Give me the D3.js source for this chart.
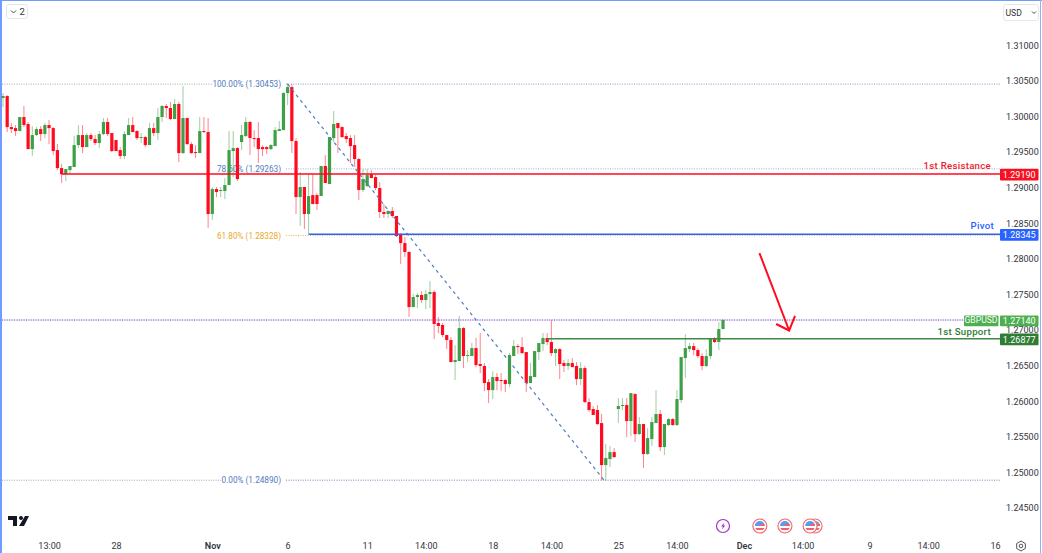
<!DOCTYPE html>
<html>
<head>
<meta charset="utf-8">
<style>
html, body { margin: 0; padding: 0; background: #fff; overflow: hidden; }
svg text { font-family: Roboto, "Liberation Sans", sans-serif; }
</style>
<script src="https://cdn.jsdelivr.net/npm/d3@7"></script>
</head>
<body>
<script>
// GBPUSD 4h candles
var opens = [
1.30258,1.30286,1.29850,1.29836,1.29794,1.29991,1.29893,1.29541,1.29738,1.29822,
1.29752,1.29878,1.29836,1.29527,1.29274,1.29190,1.29246,1.29289,1.29597,1.29738,
1.29569,1.29738,1.29682,1.29626,1.29752,1.29921,1.29766,1.29668,1.29527,1.29443,
1.29738,1.29878,1.29794,1.29696,1.29710,1.29597,1.29836,1.29766,1.29991,1.30146,
1.30118,1.29963,1.30174,1.29485,1.29977,1.29611,1.29499,1.29485,1.29794,1.29780,
1.28629,1.28980,1.28952,1.28952,1.29036,1.29513,1.29555,1.29640,1.29724,1.29921,
1.29696,1.29696,1.29569,1.29569,1.29541,1.29583,1.29794,1.29808,1.30328,1.30412,
1.29654,1.28867,1.29008,1.28629,1.28895,1.28895,1.28881,1.29303,1.29050,1.29696,
1.29907,1.29850,1.29724,1.29696,1.29597,1.29401,1.28966,1.29022,1.29190,1.29148,
1.28994,1.28657,1.28629,1.28671,1.28601,1.28334,1.28221,1.28095,1.27322,1.27463,
1.27491,1.27421,1.27505,1.27533,1.27098,1.27070,1.26929,1.26859,1.26550,1.26564,
1.27027,1.26634,1.26634,1.26746,1.26522,1.26494,1.26269,1.26156,1.26339,1.26297,
1.26297,1.26241,1.26634,1.26774,1.26760,1.26690,1.26255,1.26339,1.26690,1.26803,
1.26887,1.26831,1.26676,1.26732,1.26536,1.26494,1.26536,1.26494,1.26311,1.26465,
1.25988,1.25890,1.25876,1.25693,1.25103,1.25187,1.25285,1.25890,1.25932,1.25946,
1.25721,1.26100,1.25538,1.25679,1.25258,1.25468,1.25693,1.25820,1.25356,1.25665,
1.25749,1.25665,1.26016,1.26606,1.26732,1.26774,1.26718,1.26634,1.26494,1.26634,
1.26873,1.26831,1.27013];
var highs = [
1.30328,1.30300,1.29907,1.29878,1.29991,1.30146,1.29921,1.29864,1.29850,1.29864,
1.29907,1.29949,1.29850,1.29611,1.29331,1.29260,1.29303,1.29724,1.29878,1.29878,
1.29766,1.29766,1.29738,1.29794,1.29977,1.29977,1.29766,1.29668,1.29569,1.29794,
1.29977,1.29991,1.29808,1.29766,1.29724,1.29907,1.29907,1.30118,1.30160,1.30174,
1.30202,1.30244,1.30202,1.30426,1.29977,1.29640,1.29597,1.29991,1.29991,1.29977,
1.29008,1.29008,1.29008,1.29134,1.29794,1.29794,1.29569,1.29878,1.29991,1.29935,
1.29808,1.29921,1.29597,1.29583,1.29611,1.29850,1.29935,1.30342,1.30468,1.30454,
1.29696,1.29218,1.29008,1.29190,1.29190,1.28923,1.29303,1.29457,1.29710,1.30075,
1.29907,1.29864,1.29766,1.29738,1.29738,1.29415,1.29260,1.29260,1.29246,1.29176,
1.29078,1.28769,1.28685,1.28727,1.28601,1.28362,1.28305,1.28109,1.27505,1.27519,
1.27547,1.27561,1.27687,1.27561,1.27182,1.27098,1.26929,1.26901,1.26788,1.27196,
1.27041,1.26718,1.26817,1.26887,1.26957,1.26536,1.26311,1.26423,1.26395,1.26395,
1.26311,1.26676,1.26859,1.26803,1.26901,1.26690,1.26536,1.26704,1.26817,1.26957,
1.26957,1.27140,1.26746,1.26746,1.26578,1.26592,1.26606,1.26550,1.26550,1.26494,
1.26044,1.25932,1.25946,1.25820,1.25398,1.25370,1.25342,1.26044,1.26044,1.26044,
1.26114,1.26114,1.25777,1.25679,1.25623,1.25777,1.26156,1.25876,1.25679,1.25763,
1.25763,1.26156,1.26620,1.26943,1.26817,1.26817,1.26746,1.26676,1.26732,1.26873,
1.26901,1.27112,1.27154];
var lows = [
1.30132,1.29780,1.29766,1.29724,1.29794,1.29850,1.29541,1.29443,1.29724,1.29654,
1.29696,1.29611,1.29457,1.29246,1.29064,1.29092,1.29190,1.29289,1.29555,1.29485,
1.29569,1.29654,1.29597,1.29555,1.29738,1.29724,1.29499,1.29513,1.29401,1.29401,
1.29738,1.29780,1.29668,1.29626,1.29569,1.29597,1.29724,1.29668,1.29921,1.29977,
1.29949,1.29963,1.29359,1.29471,1.29597,1.29471,1.29415,1.29485,1.29766,1.28433,
1.28545,1.28867,1.28867,1.28839,1.29036,1.29148,1.29092,1.29527,1.29710,1.29457,
1.29569,1.29345,1.29443,1.29471,1.29527,1.29583,1.29794,1.29808,1.30160,1.29485,
1.28629,1.28461,1.28419,1.28348,1.28769,1.28685,1.28881,1.29064,1.29050,1.29640,
1.29485,1.29696,1.29626,1.29345,1.29289,1.28825,1.28938,1.29008,1.29134,1.28966,
1.28573,1.28573,1.28573,1.28573,1.28305,1.27926,1.28024,1.27182,1.27322,1.27308,
1.27378,1.27294,1.27308,1.26873,1.26957,1.26901,1.26732,1.26550,1.26297,1.26564,
1.26465,1.26550,1.26634,1.26479,1.26395,1.26142,1.25974,1.26030,1.26156,1.26142,
1.26128,1.26198,1.26634,1.26662,1.26662,1.26128,1.26255,1.26339,1.26578,1.26704,
1.26788,1.26634,1.26494,1.26311,1.26409,1.26437,1.26479,1.26227,1.26227,1.25974,
1.25848,1.25807,1.25665,1.24890,1.24880,1.25075,1.25201,1.25693,1.25876,1.25496,
1.25510,1.25426,1.25524,1.25061,1.25244,1.25370,1.25693,1.25300,1.25244,1.25651,
1.25651,1.25651,1.25974,1.26325,1.26690,1.26648,1.26606,1.26437,1.26479,1.26592,
1.26817,1.26718,1.27013];
var closes = [
1.30286,1.29850,1.29822,1.29794,1.29991,1.29878,1.29541,1.29738,1.29822,1.29752,
1.29878,1.29836,1.29513,1.29274,1.29190,1.29260,1.29303,1.29597,1.29738,1.29569,
1.29738,1.29682,1.29626,1.29752,1.29921,1.29752,1.29513,1.29513,1.29443,1.29752,
1.29878,1.29780,1.29696,1.29710,1.29597,1.29836,1.29766,1.29991,1.30146,1.30118,
1.29963,1.30174,1.29485,1.29977,1.29611,1.29485,1.29485,1.29794,1.29780,1.28629,
1.28980,1.28938,1.28966,1.29036,1.29527,1.29555,1.29120,1.29738,1.29921,1.29696,
1.29682,1.29541,1.29541,1.29541,1.29597,1.29808,1.29822,1.30328,1.30412,1.29654,
1.28867,1.29008,1.28629,1.28881,1.28769,1.28769,1.29303,1.29064,1.29710,1.29893,
1.29836,1.29710,1.29682,1.29583,1.29401,1.28966,1.29120,1.29176,1.29134,1.28994,
1.28657,1.28629,1.28671,1.28601,1.28320,1.28221,1.28095,1.27322,1.27463,1.27491,
1.27421,1.27505,1.27533,1.27084,1.27056,1.26929,1.26859,1.26550,1.26578,1.27027,
1.26634,1.26648,1.26746,1.26508,1.26494,1.26255,1.26156,1.26339,1.26283,1.26283,
1.26241,1.26648,1.26774,1.26760,1.26676,1.26255,1.26353,1.26704,1.26817,1.26887,
1.26831,1.26676,1.26732,1.26522,1.26494,1.26536,1.26479,1.26311,1.26465,1.25988,
1.25876,1.25807,1.25679,1.25103,1.25201,1.25285,1.25215,1.25932,1.25946,1.25721,
1.26114,1.25538,1.25679,1.25258,1.25482,1.25707,1.25820,1.25356,1.25679,1.25749,
1.25665,1.26030,1.26620,1.26746,1.26774,1.26718,1.26634,1.26494,1.26634,1.26873,
1.26831,1.27013,1.27140];

var priceTicks = [1.31, 1.305, 1.30, 1.295, 1.29, 1.285, 1.28, 1.275, 1.27, 1.265, 1.26, 1.255, 1.25, 1.245];
var timeTickIdx = [11, 27, 50, 68, 87, 101, 117, 131, 147, 161, 177, 191, 207, 221, 237];
var timeTickLabels = ["13:00", "28", "Nov", "6", "11", "14:00", "18", "14:00", "25", "14:00", "Dec", "14:00", "9", "14:00", "16"];
var boldTimeTicks = ["Nov", "Dec"];

// fib levels: label, price, colour
var fibLabels = ["100.00% (1.30453)", "78.60% (1.29263)", "61.80% (1.28328)", "0.00% (1.24890)"];
var fibPrices = [1.30453, 1.29263, 1.28328, 1.24890];
var fibColors = ["#4f7bc0", "#4f7bc0", "#e8a92e", "#4f7bc0"];

var levelNames = ["1st Resistance", "Pivot", "1st Support"];
var levelPrices = [1.29190, 1.28345, 1.26877];
var levelColors = ["#ff0a1e", "#2962ff", "#3d8b40"];
var levelStart = [14, 73, 130];
var levelLabelColors = ["#f01a2c", "#2962ff", "#2e7d32"];

var lastPrice = 1.27140;
var trendIdx = [68, 143.6];
var trendPrice = [1.30453, 1.24890];
var arrowIdx = [180.7, 187.8, 184.7, 187.8, 189.2];
var arrowPrice = [1.28081, 1.26993, 1.27084, 1.26993, 1.27197];
var eventIdx = [172, 180.8, 186.8, 192.8, 194];

var width = 1042, height = 553;
var upColor = "#3f9f46", downColor = "#ff0a1e";

var svg = d3.select("body").append("svg")
    .attr("width", width)
    .attr("height", height)
    .style("display", "block");

var x = d3.scaleLinear().domain([0, 172]).range([3, 723]);
var y = d3.scaleLinear().domain([1.31, 1.245]).range([45.2, 508]);
var plotRight = 1000;
var fibLeft = 282;

// frame
svg.append("rect").attr("x", 0).attr("y", 0).attr("width", 2).attr("height", height).attr("fill", "#6f9dff");
svg.append("rect").attr("x", 0).attr("y", 0).attr("width", width).attr("height", 1).attr("fill", "#6f9dff");
svg.append("rect").attr("x", 1040).attr("y", 0).attr("width", 1).attr("height", height).attr("fill", "#8fb2fb");

// fib dotted lines, text sits under the candles
var fib = svg.append("g");
fibPrices.forEach(function (p, i) {
    // the outer two levels also run left of the label, in plain gray
    if (i == 0 || i == 3) {
        fib.append("line")
            .attr("x1", 2).attr("x2", i == 0 ? 212 : 221)
            .attr("y1", y(p)).attr("y2", y(p))
            .attr("stroke", "#8f939c")
            .attr("stroke-width", 1)
            .attr("stroke-dasharray", "1 1.4")
            .attr("opacity", 0.8);
    }
    fib.append("line")
        .attr("x1", fibLeft + 4).attr("x2", plotRight)
        .attr("y1", y(p)).attr("y2", y(p))
        .attr("stroke", i == 2 ? fibColors[i] : "#8ea0c4")
        .attr("stroke-width", (i == 0 || i == 3) ? 1.4 : 1)
        .attr("stroke-dasharray", "1 1.4")
        .attr("opacity", 0.85);
    fib.append("text")
        .attr("x", 281).attr("y", y(p) + 3.2)
        .attr("text-anchor", "end")
        .attr("font-size", 8.2)
        .attr("fill", fibColors[i])
        .text(fibLabels[i]);
});

// candles
var idx = d3.range(opens.length);
var candles = svg.append("g");
candles.selectAll("line").data(idx).enter().append("line")
    .attr("x1", function (d) { return x(d); })
    .attr("x2", function (d) { return x(d); })
    .attr("y1", function (d) { return y(highs[d]); })
    .attr("y2", function (d) { return y(lows[d]); })
    .attr("stroke", function (d) { return closes[d] >= opens[d] ? upColor : downColor; })
    .attr("stroke-width", 1)
    .attr("opacity", 0.5);
candles.selectAll("rect").data(idx).enter().append("rect")
    .attr("x", function (d) { return x(d) - 1.6; })
    .attr("width", 3.2)
    .attr("y", function (d) { return y(Math.max(opens[d], closes[d])); })
    .attr("height", function (d) { return Math.max(1, Math.abs(y(opens[d]) - y(closes[d]))); })
    .attr("fill", function (d) { return closes[d] >= opens[d] ? upColor : downColor; });

// trend line
svg.append("line")
    .attr("x1", x(trendIdx[0])).attr("y1", y(trendPrice[0]))
    .attr("x2", x(trendIdx[1])).attr("y2", y(trendPrice[1]))
    .attr("stroke", "#4f7bc0")
    .attr("stroke-width", 1.2)
    .attr("stroke-dasharray", "3.2 3.6");

// last price dotted line
svg.append("line")
    .attr("x1", 2).attr("x2", 964)
    .attr("y1", y(lastPrice)).attr("y2", y(lastPrice))
    .attr("stroke", "#8e5fd0")
    .attr("stroke-width", 2)
    .attr("opacity", 0.12);
svg.append("line")
    .attr("x1", 2).attr("x2", 964)
    .attr("y1", y(lastPrice)).attr("y2", y(lastPrice))
    .attr("stroke", "#7d4fd0")
    .attr("stroke-width", 1)
    .attr("stroke-dasharray", "1 1.4");

// horizontal levels
levelPrices.forEach(function (p, i) {
    svg.append("line")
        .attr("x1", x(levelStart[i])).attr("x2", plotRight)
        .attr("y1", y(p)).attr("y2", y(p))
        .attr("stroke", levelColors[i])
        .attr("stroke-width", 1.6);
});

// hand drawn arrow
var arrowLine = d3.line()
    .x(function (d) { return x(arrowIdx[d]); })
    .y(function (d) { return y(arrowPrice[d]); });
svg.append("path")
    .attr("d", arrowLine([0, 1]))
    .attr("fill", "none").attr("stroke", "#ff0a1e").attr("stroke-width", 2);
svg.append("path")
    .attr("d", arrowLine([2, 3, 4]))
    .attr("fill", "none").attr("stroke", "#ff0a1e").attr("stroke-width", 2);

// price axis
var yAxis = d3.axisRight(y)
    .tickValues(priceTicks)
    .tickSize(0)
    .tickPadding(0)
    .tickFormat(d3.format(".5f"));
var yG = svg.append("g").attr("transform", "translate(1006,0)").call(yAxis);
yG.select(".domain").remove();
yG.selectAll("text").attr("font-size", 9).attr("fill", "#333640")
    .style("font-family", "Roboto, sans-serif");

// time axis
var timeAxis = d3.axisBottom(x)
    .tickValues(timeTickIdx)
    .tickSize(0)
    .tickPadding(0)
    .tickFormat(function (d) { return timeTickLabels[timeTickIdx.indexOf(d)]; });
var xG = svg.append("g").attr("transform", "translate(0,542.5)").call(timeAxis);
xG.select(".domain").remove();
xG.selectAll("text").attr("font-size", 9).attr("fill", "#333640")
    .attr("font-weight", function (d) { return boldTimeTicks.indexOf(timeTickLabels[timeTickIdx.indexOf(d)]) >= 0 ? 600 : 400; })
    .style("font-family", "Roboto, sans-serif");

// level tags and names
var tagFills = ["#f7101f", "#2962ff", "#2e7d32"];
var nameRight = [991, 994, 991];
var nameShift = [-8, -8, -7.2];
levelPrices.forEach(function (p, i) {
    svg.append("rect")
        .attr("x", 1000).attr("y", y(p) - 5.2)
        .attr("width", 38.5).attr("height", 11.6)
        .attr("rx", 1)
        .attr("fill", tagFills[i]);
    svg.append("text")
        .attr("x", 1019.2).attr("y", y(p) + 3.8)
        .attr("text-anchor", "middle")
        .attr("font-size", 9).attr("fill", "#fff")
        .text(p.toFixed(5));
    svg.append("text")
        .attr("x", nameRight[i]).attr("y", y(p) + nameShift[i] + 3)
        .attr("text-anchor", "end")
        .attr("font-size", 9.6).attr("letter-spacing", 0.3)
        .attr("font-weight", 500)
        .attr("fill", levelLabelColors[i])
        .text(levelNames[i]);
});

// last price tag
svg.append("rect").attr("x", 964).attr("y", y(lastPrice) - 4.6).attr("width", 34.5).attr("height", 10.8).attr("rx", 1).attr("fill", "#4caf50");
svg.append("text").attr("x", 981).attr("y", y(lastPrice) + 3.4).attr("text-anchor", "middle").attr("font-size", 8.6).attr("fill", "#fff").text("GBPUSD");
svg.append("rect").attr("x", 1000).attr("y", y(lastPrice) - 4.6).attr("width", 38.5).attr("height", 10.8).attr("rx", 1).attr("fill", "#4caf50");
svg.append("text").attr("x", 1019.2).attr("y", y(lastPrice) + 3.6).attr("text-anchor", "middle").attr("font-size", 9).attr("fill", "#fff").text(lastPrice.toFixed(5));

// top buttons
var btnL = svg.append("g");
btnL.append("rect").attr("x", 6.5).attr("y", 4.5).attr("width", 21).attr("height", 14).attr("rx", 2.5).attr("fill", "#fff").attr("stroke", "#e6e7ec");
btnL.append("path").attr("d", "M11 10.5l2.5 2.5 2.5-2.5").attr("fill", "none").attr("stroke", "#333").attr("stroke-width", 0.9);
btnL.append("text").attr("x", 19.5).attr("y", 15).attr("font-size", 9.5).attr("fill", "#333").text("2");
var btnR = svg.append("g");
btnR.append("rect").attr("x", 1003.5).attr("y", 4.5).attr("width", 35).attr("height", 16).attr("rx", 2.5).attr("fill", "#fff").attr("stroke", "#e6e7ec");
btnR.append("text").attr("x", 1005.5).attr("y", 15.5).attr("font-size", 8.6).attr("fill", "#333").text("USD");
btnR.append("path").attr("d", "M1032 11.5l2 2 2-2").attr("fill", "none").attr("stroke", "#333").attr("stroke-width", 0.9);

// TradingView mark
svg.append("path")
    .attr("d", "M8 516h9v10h-4v-6h-5z M21 516a2 2 0 1 0 .01 0z M25 516h4l-5 10h-5z")
    .attr("fill", "#131722");

// event icons under the candles
var events = svg.append("g");
events.append("circle").attr("cx", x(eventIdx[0])).attr("cy", 526).attr("r", 6.5).attr("fill", "#fff").attr("stroke", "#a52fc4").attr("stroke-width", 1.2);
events.append("path")
    .attr("transform", "translate(" + x(eventIdx[0]) + ",526)")
    .attr("d", "M1.5 -3.5l-3.5 4h2l-1.2 3 3.5-4h-2z")
    .attr("fill", "#a52fc4");
[4, 3, 2, 1].forEach(function (k) {
    var g = events.append("g").attr("transform", "translate(" + x(eventIdx[k]) + ",526)");
    g.append("circle").attr("r", 7).attr("fill", "#fff").attr("stroke", "#f26a6f").attr("stroke-width", 1.2);
    g.append("clipPath").attr("id", "f" + k).append("circle").attr("r", 5);
    var c = g.append("g").attr("clip-path", "url(#f" + k + ")");
    c.append("rect").attr("x", -5).attr("y", -5).attr("width", 10).attr("height", 10).attr("fill", "#fff");
    c.append("rect").attr("x", -5).attr("y", -5).attr("width", 10).attr("height", 5).attr("fill", "#5d9cec");
    c.append("rect").attr("x", 0).attr("y", -2).attr("width", 5).attr("height", 2).attr("fill", "#f0606a");
    c.append("rect").attr("x", -5).attr("y", 2).attr("width", 10).attr("height", 2).attr("fill", "#f0606a");
});

// settings gear
var gear = svg.append("g").attr("transform", "translate(1021,546)");
gear.append("path").attr("d", d3.lineRadial().curve(d3.curveLinearClosed)(d3.range(6).map(function (k) { return [k * Math.PI / 3, 5]; })))
    .attr("fill", "none").attr("stroke", "#40444f").attr("stroke-width", 0.9);
gear.append("circle").attr("r", 1.8).attr("fill", "none").attr("stroke", "#40444f").attr("stroke-width", 0.9);
</script>
</body>
</html>
